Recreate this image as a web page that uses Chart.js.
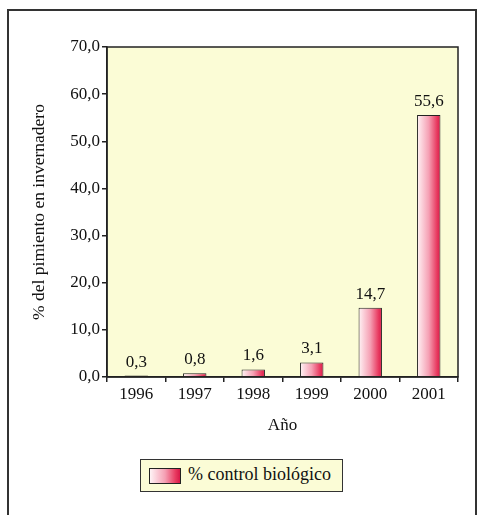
<!DOCTYPE html>
<html>
<head>
<meta charset="utf-8">
<script src="https://cdn.jsdelivr.net/npm/chart.js@4"></script>
<style>
  body { margin: 0; background: #fff; }
  #frame { position: absolute; left: 7px; top: 9px; width: 466px; height: 520px;
           border: 2px solid #333; border-bottom: none; }
  #wrap { position: absolute; left: 0; top: 0; width: 477px; height: 515px; }
  #legend { position: absolute; left: 140px; top: 459px; width: 201px; height: 31px;
            border: 1.5px solid #333; background: #fbfcd6;
            font-size: 18px; font-family: "Liberation Serif", "DejaVu Serif", serif; color: #111; }
  #legend .sw { position: absolute; left: 8px; top: 8px; width: 30px; height: 14px;
                border: 1px solid #222;
                background: linear-gradient(to right, #fff4f6, #f5a0b4 50%, #e83a60 85%, #d81848); }
  #legend .txt { position: absolute; left: 47px; top: 4px; white-space: nowrap; }
</style>
</head>
<body>
<div id="frame"></div>
<div id="wrap"><canvas id="c" width="477" height="515"></canvas></div>
<div id="legend"><div class="sw"></div><div class="txt">% control biológico</div></div>
<script>
"use strict";

// Data.
const years = ["1996", "1997", "1998", "1999", "2000", "2001"];
const biocontrol = [0.3, 0.8, 1.6, 3.1, 14.7, 55.6];
const yMin = 0, yMax = 70, yStep = 10;

const serif = '"Liberation Serif", "DejaVu Serif", serif';
const ink = "#111";
const fmtComma = (v) => v.toFixed(1).replace(".", ",");

// pale yellow plot background plus a full box around the plot area
const plotBox = {
  id: "plotBox",
  beforeDraw(chart) {
    const { ctx, chartArea: a } = chart;
    ctx.save();
    ctx.fillStyle = "#fbfcd6";
    ctx.fillRect(a.left, a.top, a.right - a.left, a.bottom - a.top);
    ctx.restore();
  },
  afterDraw(chart) {
    const { ctx, chartArea: a } = chart;
    ctx.save();
    ctx.strokeStyle = "#222";
    ctx.lineWidth = 1.5;
    ctx.strokeRect(a.left, a.top, a.right - a.left, a.bottom - a.top);
    ctx.restore();
  },
};

// value labels above each bar, with decimal comma
const valueLabels = {
  id: "valueLabels",
  afterDatasetsDraw(chart) {
    const { ctx } = chart;
    const meta = chart.getDatasetMeta(0);
    ctx.save();
    ctx.font = "17px " + serif;
    ctx.fillStyle = ink;
    ctx.textAlign = "center";
    ctx.textBaseline = "bottom";
    meta.data.forEach((bar, i) => {
      ctx.fillText(fmtComma(biocontrol[i]), bar.x, bar.y - 5);
    });
    ctx.restore();
  },
};

function barGradient(context) {
  const chart = context.chart;
  const a = chart.chartArea;
  if (!a) return "#e83a60";
  const x = chart.scales.x.getPixelForValue(context.dataIndex);
  const w = (a.right - a.left) / years.length * 0.4;
  const g = chart.ctx.createLinearGradient(x - w / 2, 0, x + w / 2, 0);
  g.addColorStop(0, "#fff4f6");
  g.addColorStop(0.5, "#f5a0b4");
  g.addColorStop(0.85, "#e83a60");
  g.addColorStop(1, "#d81848");
  return g;
}

new Chart(document.getElementById("c"), {
  type: "bar",
  data: {
    labels: years,
    datasets: [{
      label: "% control biológico",
      data: biocontrol,
      backgroundColor: barGradient,
      borderColor: "#222",
      borderWidth: 1,
      categoryPercentage: 1,
      barPercentage: 0.4,
    }],
  },
  options: {
    responsive: false,
    animation: false,
    layout: { padding: { left: 25, top: 47, right: 19, bottom: 75 } },
    plugins: { legend: { display: false }, tooltip: { enabled: false } },
    scales: {
      x: {
        afterFit: (s) => { s.height = 63; },
        grid: { offset: true, drawOnChartArea: false, drawTicks: true, tickLength: 5, color: "#222", lineWidth: 1.5 },
        border: { display: true, color: "#222", width: 1.5 },
        ticks: { color: ink, font: { family: serif, size: 17 }, padding: 2 },
        title: { display: true, text: "Año", color: ink, font: { family: serif, size: 17 }, padding: { top: 7 } },
      },
      y: {
        min: yMin,
        max: yMax,
        afterFit: (s) => { s.width = 82; },
        grid: { drawOnChartArea: false, drawTicks: true, tickLength: 5, color: "#222", lineWidth: 1.5 },
        border: { display: true, color: "#222", width: 1.5 },
        ticks: { stepSize: yStep, color: ink, font: { family: serif, size: 17 }, padding: 2,
                 callback: (v) => fmtComma(v) },
        title: { display: true, text: "% del pimiento en invernadero", color: ink,
                 font: { family: serif, size: 17.5 } },
      },
    },
  },
  plugins: [plotBox, valueLabels],
});
</script>
</body>
</html>
